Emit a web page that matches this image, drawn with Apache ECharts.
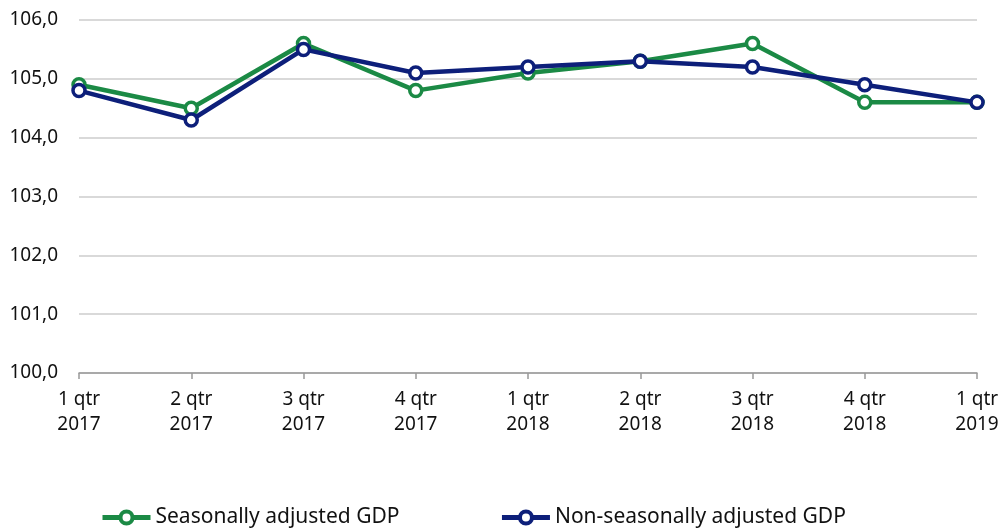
<!DOCTYPE html>
<html><head><meta charset="utf-8">
<script src="https://cdn.jsdelivr.net/npm/echarts@6/dist/echarts.min.js"></script>
<style>html,body{margin:0;padding:0;background:#fff}#c{width:1003px;height:532px}</style>
</head><body><div id="c"></div>
<script>
const categories = ['1 qtr\n2017','2 qtr\n2017','3 qtr\n2017','4 qtr\n2017','1 qtr\n2018','2 qtr\n2018','3 qtr\n2018','4 qtr\n2018','1 qtr\n2019'];
const seasonal = [104.9,104.5,105.6,104.8,105.1,105.3,105.6,104.6,104.6];
const nonSeasonal = [104.8,104.3,105.5,105.1,105.2,105.3,105.2,104.9,104.6];
const seriesNames = ['Seasonally adjusted GDP','Non-seasonally adjusted GDP'];
const colors = ['#1b8a45','#0d1f7a'];
const font = 'Noto Sans';
const chart = echarts.init(document.getElementById('c'));
function mk(name, data, color){
  return {name, type:'line', data, symbol:'circle', symbolSize:12,
    lineStyle:{color, width:4.5}, itemStyle:{color:'#fff', borderColor:color, borderWidth:3.5},
    emphasis:{disabled:true}, animation:false, z: name===seriesNames[1]?3:2};
}
chart.setOption({
  animation:false,
  textStyle:{fontFamily:font},
  grid:{left:79,right:26,top:20,bottom:159},
  legend:{left:95, top:502, itemGap:100, itemWidth:48, itemHeight:15,
    textStyle:{fontFamily:font,fontSize:21,color:'#111'},
    data:seriesNames.map((n,i)=>({name:n, itemStyle:{color:'#fff', borderColor:colors[i], borderWidth:4}, lineStyle:{color:colors[i], width:5}}))},
  xAxis:{type:'category', data:categories, boundaryGap:false,
    axisLine:{lineStyle:{color:'#999',width:1.5}},
    axisTick:{show:true,length:6,lineStyle:{color:'#999',width:1.5}},
    axisLabel:{fontFamily:font,fontSize:19,color:'#111',lineHeight:25,margin:14}},
  yAxis:{type:'value', min:100, max:106, interval:1,
    axisLine:{show:false}, axisTick:{show:false},
    splitLine:{lineStyle:{color:'#cccccc',width:1.5}},
    axisLabel:{fontFamily:font,fontSize:19,color:'#111',margin:21,
      formatter:v=>v.toFixed(1).replace('.',',')}},
  series:[mk(seriesNames[0],seasonal,colors[0]), mk(seriesNames[1],nonSeasonal,colors[1])]
});
</script></body></html>
